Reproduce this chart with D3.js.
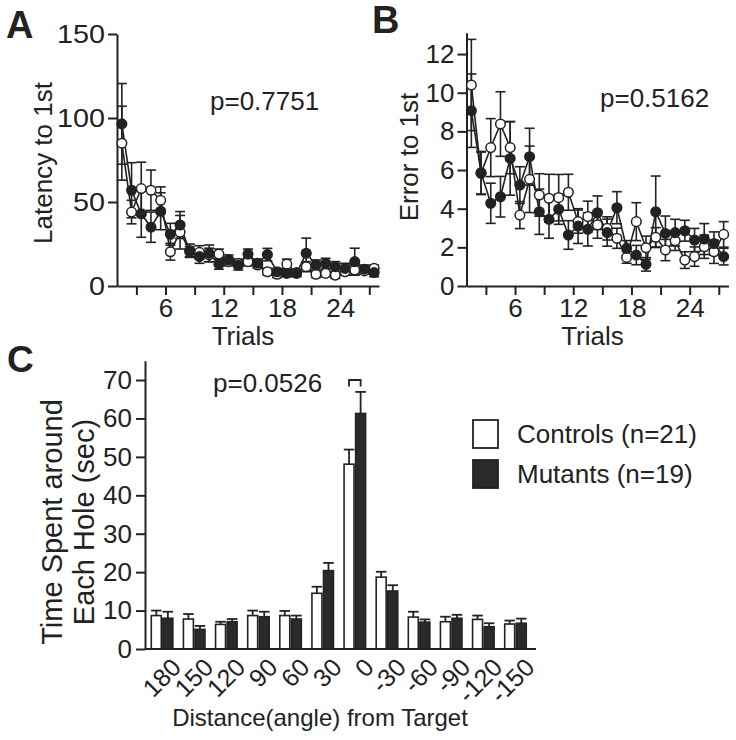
<!DOCTYPE html>
<html><head><meta charset="utf-8">
<script src="https://cdn.jsdelivr.net/npm/d3@7"></script>
<style>
body{margin:0;background:#fff}
svg text{font-family:"Liberation Sans",Arial,sans-serif;fill:#222}
</style></head><body>
<svg id="fig" width="736" height="740"></svg>
<script>
// ---------- DATA ----------
const trials = [1,2,3,4,5,6,7,8,9,10,11,12,13,14,15,16,17,18,19,20,21,22,23,24,25,26,27];
const trialTicks = [3,6,9,12,15,18,21,24,27];
const trialLabels = [6,12,18,24];

// Panel A: latency to 1st
const latencyCtl    = [85,44,58,57,51,20.4,32,21,20,18.5,19,14.5,13.5,14.5,12.5,8.5,7,13,8,11.5,7,7.5,6.5,8.5,9.5,9,10.5];
const latencyCtlSem = [22,7,15.7,12,8,5,10,4,4,4,3,2.5,2.5,2.5,2,2,2,3,2,3,2,2,2,2,3,2,2];
const latencyMut    = [96.5,57,43,35,44.5,30.8,36.3,20.5,17.5,19.4,13,15.5,12.5,19,13.5,18.7,8.5,7.5,7.5,19.5,12.5,13.5,11.5,10.5,14.5,10,8];
const latencyMutSem = [24,16.4,14,9,11,6.5,8,3,4,5,3,3,3,3,2.5,3.7,2,2,2,9,3,3,3,3,8,2.5,2.5];

// Panel B: errors to 1st
const errorCtl    = [10.4,5.83,7.16,8.38,7.16,3.67,5.52,4.71,4.54,4.57,4.85,3.33,3.59,3.16,2.98,2.47,1.48,3.33,1.98,2.52,1.86,2.34,1.34,1.52,2.03,1.77,2.67];
const errorCtlSem = [2.36,1.1,1.5,1.67,1.35,0.7,1.72,1.1,1.24,1.2,0.93,0.6,0.8,0.69,0.6,0.52,0.3,0.98,0.6,0.5,0.55,0.5,0.43,0.5,0.6,0.6,0.66];
const errorMut    = [9.07,5.86,4.28,4.62,6.6,5.22,6.69,3.84,3.45,3.97,2.64,3.1,2.93,3.79,2.76,4.05,1.95,1.6,1.12,3.84,2.72,2.76,2.86,2.38,2.43,2.2,1.52];
const errorMutSem = [1.9,1.1,1.04,1.05,1.9,0.95,1.47,1.17,0.98,0.78,0.74,0.9,0.86,0.87,0.7,0.83,0.4,0.5,0.35,1.85,0.9,0.69,0.54,0.6,0.8,0.6,0.43];

// Panel C: time spent around each hole
const angles  = ["180","150","120","90","60","30","0","-30","-60","-90","-120","-150"];
const timeCtl    = [8.7,7.8,6.4,8.7,8.7,14.5,48.1,18.7,8.3,7.1,7.7,6.5];
const timeCtlSem = [1.3,1.3,0.7,1.3,1.2,1.7,3.8,1.4,1.4,1.3,1.0,0.9];
const timeMut    = [8.0,5.1,7.1,8.4,7.8,20.4,61.3,15.1,7.0,8.0,5.8,6.7];
const timeMutSem = [1.7,0.9,0.7,1.3,0.9,2.0,5.6,1.5,0.7,0.9,0.9,1.2];
const yTicksC = [0,10,20,30,40,50,60,70];
const legendLabels = ["Controls (n=21)","Mutants (n=19)"];

// ---------- DRAW ----------
const INK = "#222";
const svg = d3.select("#fig");
svg.append("rect").attr("width",736).attr("height",740).attr("fill","#fff");

function styleAxis(g, fs){
  g.select(".domain").attr("stroke",INK).attr("stroke-width",2);
  g.selectAll(".tick line").attr("stroke",INK).attr("stroke-width",2);
  g.selectAll(".tick text").attr("fill",INK).style("font-size",fs+"px")
    .style("font-family",'"Liberation Sans",Arial,sans-serif');
}

function linePanel(opt){
  const x = d3.scaleLinear().domain([1,28]).range([opt.x0, opt.x1]);
  const y = d3.scaleLinear().domain(opt.yDomain).range([286, opt.yTop]);
  const g = svg.append("g");
  const gx = g.append("g").attr("transform","translate(0,286)")
    .call(d3.axisBottom(x).tickValues(trialTicks).tickSize(9).tickSizeOuter(0).tickPadding(4)
      .tickFormat(d => trialLabels.includes(d) ? d : ""));
  styleAxis(gx, 26);
  const gy = g.append("g").attr("transform",`translate(${opt.x0},0)`)
    .call(d3.axisLeft(y).tickValues(opt.yTicks).tickSize(9).tickSizeOuter(0).tickPadding(3));
  styleAxis(gy, 26);
  if (opt.yTickLen) gy.selectAll(".tick text").attr("textLength", d => String(d).length*opt.yTickLen).attr("lengthAdjust","spacingAndGlyphs");

  const series = [
    {v: opt.mut, s: opt.mutSem, fill: INK},
    {v: opt.ctl, s: opt.ctlSem, fill: "#fff"}
  ];
  const px = t => x(t + 0.5);
  series.forEach(sr => {
    const pts = trials.map((t,i)=>({t, v: sr.v[i], s: sr.s[i]}));
    g.append("path").datum(pts).attr("fill","none").attr("stroke",INK).attr("stroke-width",1.6)
      .attr("d", d3.line().x(d=>px(d.t)).y(d=>y(d.v)));
    const eb = g.append("g").attr("stroke",INK).attr("stroke-width",1.6);
    eb.selectAll("line.v").data(pts).join("line").attr("x1",d=>px(d.t)).attr("x2",d=>px(d.t))
      .attr("y1",d=>y(d.v-d.s)).attr("y2",d=>y(d.v+d.s));
    eb.selectAll("line.t").data(pts).join("line").attr("x1",d=>px(d.t)-5).attr("x2",d=>px(d.t)+5)
      .attr("y1",d=>y(d.v+d.s)).attr("y2",d=>y(d.v+d.s));
    eb.selectAll("line.b").data(pts).join("line").attr("x1",d=>px(d.t)-5).attr("x2",d=>px(d.t)+5)
      .attr("y1",d=>y(d.v-d.s)).attr("y2",d=>y(d.v-d.s));
  });
  [series[1], series[0]].forEach(sr => {
    g.append("g").selectAll("circle").data(trials.map((t,i)=>({t, v: sr.v[i]}))).join("circle")
      .attr("cx",d=>px(d.t)).attr("cy",d=>y(d.v)).attr("r",4.8)
      .attr("fill",sr.fill).attr("stroke",INK).attr("stroke-width",1.5);
  });
  g.append("text").attr("transform",`translate(${opt.ylabX},${opt.ylabY}) rotate(-90)`)
    .attr("text-anchor","middle").style("font-size","26px").text(opt.ylab);
  g.append("text").attr("x",(opt.x0+opt.x1)/2 - 5).attr("y",345).attr("text-anchor","middle")
    .style("font-size","26px").text("Trials");
  g.append("text").attr("x",opt.pX).attr("y",opt.pY).style("font-size","26px").text(opt.p);
  g.append("text").attr("x",opt.letX).attr("y",opt.letY).style("font-size","38px").style("font-weight","bold")
    .text(opt.letter);
}

linePanel({x0:117,x1:379,yDomain:[0,150],yTop:34,yTicks:[0,50,100,150],yTickLen:16,
  ctl:latencyCtl,ctlSem:latencyCtlSem,mut:latencyMut,mutSem:latencyMutSem,
  ylab:"Latency to 1st",ylabX:52,ylabY:163,p:"p=0.7751",pX:210,pY:110,letter:"A",letX:6,letY:38});
linePanel({x0:466.5,x1:728.5,yDomain:[0,13.1],yTop:32.8,yTicks:[0,2,4,6,8,10,12],
  ctl:errorCtl,ctlSem:errorCtlSem,mut:errorMut,mutSem:errorMutSem,
  ylab:"Error to 1st",ylabX:418,ylabY:157,p:"p=0.5162",pX:600,pY:107,letter:"B",letX:372,letY:33});

// Panel C
const xC = d3.scaleBand().domain(angles).range([145,536]).paddingInner(0.28).paddingOuter(0.225).align(0.38);
const sub = d3.scaleBand().domain(["ctl","mut"]).range([0,xC.bandwidth()]);
const yC = d3.scaleLinear().domain([0,75]).range([649,360.8]);
const gC = svg.append("g");
const groups = [
  {key:"ctl", v: timeCtl, s: timeCtlSem, fill:"#fff"},
  {key:"mut", v: timeMut, s: timeMutSem, fill:"#2a2a2a"}
];
groups.forEach(gr => {
  const data = angles.map((a,i)=>({a, v: gr.v[i], s: gr.s[i]}));
  const bx = d => xC(d.a) + sub(gr.key);
  const gg = gC.append("g");
  gg.selectAll("line.e").data(data).join("line").attr("stroke",INK).attr("stroke-width",1.8)
    .attr("x1",d=>bx(d)+sub.bandwidth()/2).attr("x2",d=>bx(d)+sub.bandwidth()/2)
    .attr("y1",d=>yC(d.v)).attr("y2",d=>yC(d.v+d.s));
  gg.selectAll("line.c").data(data).join("line").attr("stroke",INK).attr("stroke-width",1.8)
    .attr("x1",d=>bx(d)+0.5).attr("x2",d=>bx(d)+sub.bandwidth()-0.5)
    .attr("y1",d=>yC(d.v+d.s)).attr("y2",d=>yC(d.v+d.s));
  gg.selectAll("rect").data(data).join("rect")
    .attr("x",d=>bx(d)+0.8).attr("width",sub.bandwidth()-1.6)
    .attr("y",d=>yC(d.v)).attr("height",d=>yC(0)-yC(d.v))
    .attr("fill",gr.fill).attr("stroke",INK).attr("stroke-width",1.6);
});
const gxC = gC.append("g").attr("transform","translate(0,649)")
  .call(d3.axisBottom(xC).tickSize(0).tickSizeOuter(0).tickPadding(0));
styleAxis(gxC, 25);
gxC.select(".domain").attr("d",`M145,0H536`);
gxC.selectAll(".tick text").attr("text-anchor","end").attr("dy",0).attr("y",0)
  .attr("transform",`translate(${xC.bandwidth()/2+9},20) rotate(-45)`);
const gyC = gC.append("g").attr("transform","translate(145,0)")
  .call(d3.axisLeft(yC).tickValues(yTicksC).tickSize(9).tickSizeOuter(0).tickPadding(4));
styleAxis(gyC, 26);
// significance bracket at target hole
const c0 = xC("0");
gC.append("path").attr("fill","none").attr("stroke",INK).attr("stroke-width",1.8)
  .attr("d",`M${c0+sub("ctl")+sub.bandwidth()/2},${yC(68.3)}V${yC(70)}H${c0+sub("mut")+sub.bandwidth()/2}V${yC(68.3)}`);
gC.append("text").attr("x",213).attr("y",392).style("font-size","26px").text("p=0.0526");
gC.append("text").attr("x",320).attr("y",726).attr("text-anchor","middle").style("font-size","24px")
  .text("Distance(angle) from Target");
gC.append("text").attr("transform","translate(62,522) rotate(-90)").attr("text-anchor","middle")
  .style("font-size","29px").text("Time Spent around");
gC.append("text").attr("transform","translate(94,522) rotate(-90)").attr("text-anchor","middle")
  .style("font-size","29px").text("Each Hole (sec)");
gC.append("text").attr("x",7).attr("y",372).style("font-size","37px").style("font-weight","bold").text("C");
// legend
const lg = gC.append("g");
legendLabels.forEach((lab,i) => {
  lg.append("rect").attr("x",473).attr("y",420+i*40).attr("width",25).attr("height",28)
    .attr("fill", groups[i].fill).attr("stroke",INK).attr("stroke-width",1.8);
  lg.append("text").attr("x",517).attr("y",443+i*40).style("font-size","26px").text(lab);
});
</script>
</body></html>
